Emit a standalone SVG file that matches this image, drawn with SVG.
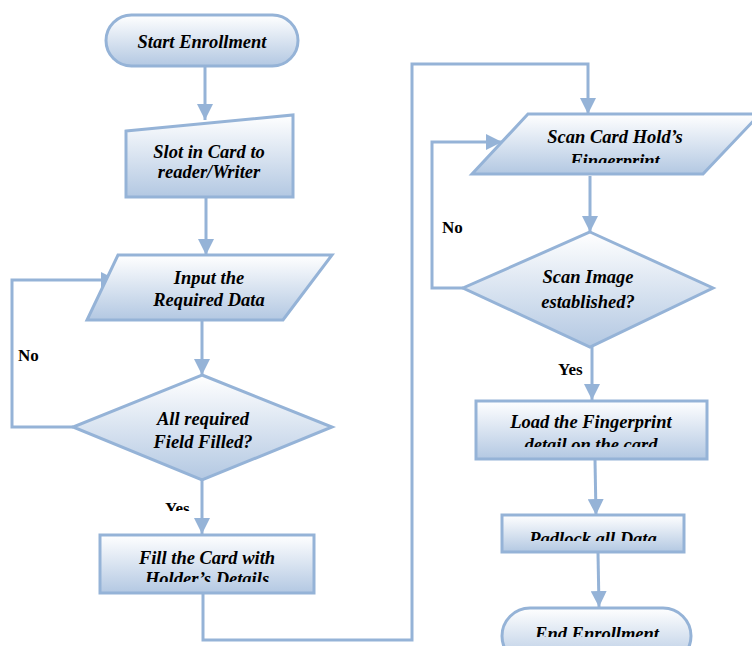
<svg xmlns="http://www.w3.org/2000/svg" width="752" height="646" viewBox="0 0 752 646">
<style>
.shape{stroke:#95b3d7;stroke-width:3;fill:url(#g)}
.conn{stroke:#95b3d7;stroke-width:3;fill:none}
.t{font-family:"Liberation Serif",serif;font-weight:bold;font-style:italic;font-size:18.5px;fill:#000;text-anchor:middle}
.lbl{font-family:"Liberation Serif",serif;font-weight:bold;font-size:17px;fill:#000}
</style>
<defs>
<linearGradient id="g" x1="0" y1="0" x2="0" y2="1">
<stop offset="0" stop-color="#ffffff"/>
<stop offset="1" stop-color="#b3c8e2"/>
</linearGradient>
<marker id="a" viewBox="0 0 10 10" refX="10" refY="5" markerWidth="16" markerHeight="16" markerUnits="userSpaceOnUse" orient="auto">
<path d="M0,0 L10,5 L0,10 Z" fill="#95b3d7"/>
</marker>
<clipPath id="cYes"><rect x="0" y="0" width="752" height="511"/></clipPath>
<clipPath id="cFill"><rect x="0" y="0" width="752" height="582"/></clipPath>
<clipPath id="cScan"><rect x="0" y="0" width="752" height="163"/></clipPath>
<clipPath id="cLoad"><rect x="0" y="0" width="752" height="447"/></clipPath>
<clipPath id="cPad"><rect x="0" y="0" width="752" height="541"/></clipPath>
<clipPath id="cEnd"><rect x="0" y="0" width="752" height="637"/></clipPath>
</defs>

<g id="connectors">
<path class="conn" d="M205,66 L205,120" marker-end="url(#a)"/>
<path class="conn" d="M206,198 L206,255" marker-end="url(#a)"/>
<path class="conn" d="M202,321 L202,375" marker-end="url(#a)"/>
<path class="conn" d="M73,427 L12,427 L12,280 L117,280" marker-end="url(#a)"/>
<path class="conn" d="M202,480 L202,534" marker-end="url(#a)"/>
<path class="conn" d="M203,594 L203,640 L412,640 L412,64 L588,64 L588,114" marker-end="url(#a)"/>
<path class="conn" d="M590,176 L590,232" marker-end="url(#a)"/>
<path class="conn" d="M463,288 L432,288 L432,142 L502,142" marker-end="url(#a)"/>
<path class="conn" d="M592,347 L592,400" marker-end="url(#a)"/>
<path class="conn" d="M595,460 L596,515" marker-end="url(#a)"/>
<path class="conn" d="M598,553 L599,607" marker-end="url(#a)"/>
<text class="lbl" x="18" y="361">No</text>
<text class="lbl" x="165" y="514" clip-path="url(#cYes)">Yes</text>
<text class="lbl" x="442" y="233">No</text>
<text class="lbl" x="558" y="375">Yes</text>
</g>

<g id="start">
<rect class="shape" x="106" y="15" width="192" height="51" rx="25.5"/>
<text class="t" x="202" y="48">Start Enrollment</text>
</g>

<g id="slot">
<path class="shape" d="M126,131 L293,115 L293,197 L126,197 Z"/>
<text class="t" x="209" y="158">Slot in Card to</text>
<text class="t" x="209" y="178">reader/Writer</text>
</g>

<g id="input">
<path class="shape" d="M118,255 L332,255 L283,320 L87,320 Z"/>
<text class="t" x="209" y="284">Input the</text>
<text class="t" x="209" y="306">Required Data</text>
</g>

<g id="check">
<path class="shape" d="M202,375 L332,427 L202,480 L73,427 Z"/>
<text class="t" x="203" y="425">All required</text>
<text class="t" x="203" y="448">Field Filled?</text>
</g>

<g id="fill">
<rect class="shape" x="100" y="535" width="214" height="58"/>
<text class="t" x="207" y="564">Fill the Card with</text>
<text class="t" x="207" y="585" clip-path="url(#cFill)">Holder’s Details</text>
</g>

<g id="scan">
<path class="shape" d="M528,114 L760,114 L703,174 L472,174 Z"/>
<text class="t" x="615" y="143">Scan Card Hold’s</text>
<text class="t" x="615" y="167" clip-path="url(#cScan)">Fingerprint</text>
</g>

<g id="established">
<path class="shape" d="M590,232 L713,288 L590,347 L463,288 Z"/>
<text class="t" x="588" y="283">Scan Image</text>
<text class="t" x="588" y="308">established?</text>
</g>

<g id="load">
<rect class="shape" x="476" y="401" width="231" height="58"/>
<text class="t" x="591" y="428">Load the Fingerprint</text>
<text class="t" x="591" y="451" clip-path="url(#cLoad)">detail on the card</text>
</g>

<g id="padlock">
<rect class="shape" x="502" y="515" width="182" height="37"/>
<text class="t" x="593" y="545" clip-path="url(#cPad)">Padlock all Data</text>
</g>

<g id="end">
<rect class="shape" x="502" y="608" width="189" height="56" rx="28"/>
<text class="t" x="597" y="640" clip-path="url(#cEnd)">End Enrollment</text>
</g>
</svg>
